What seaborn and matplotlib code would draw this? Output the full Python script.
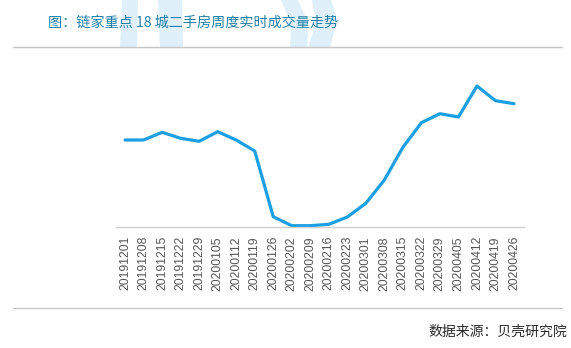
import matplotlib
matplotlib.use("Agg")
import matplotlib.pyplot as plt
from matplotlib.patches import Polygon
from matplotlib.lines import Line2D
import seaborn as sns
import pandas as pd

weeks = ["20191201", "20191208", "20191215", "20191222", "20191229",
         "20200105", "20200112", "20200119", "20200126", "20200202",
         "20200209", "20200216", "20200223", "20200301", "20200308",
         "20200315", "20200322", "20200329", "20200405", "20200412",
         "20200419", "20200426"]
volume = [87.0, 87.0, 94.7, 88.7, 85.7, 95.3, 87.0, 76.0, 10.3, 1.3,
          1.3, 2.7, 10.0, 23.7, 47.0, 79.7, 104.3, 113.3, 110.0, 141.0,
          126.3, 123.3]

title_text = "图：链家重点 18 城二手房周度实时成交量走势"
source_text = "数据来源：贝壳研究院"

sns.set_theme(style="white")
plt.rcParams["font.family"] = ["Noto Sans CJK SC", "DejaVu Sans"]

W, H = 571, 348
fig = plt.figure(figsize=(W / 100, H / 100), dpi=100)
fig.patch.set_facecolor("white")


def fx(px):
    return px / W


def fy(py):
    return 1 - py / H


# faint background emblem behind the heading
mark_color = "#dff0fb"
shapes = [
    [(122, 0), (138, 0), (137, 48), (120, 48)],
    [(158, 0), (182, 0), (183, 48), (160, 48)],
    [(281, 0), (298, 0), (305, 16), (308, 32), (307, 48), (290, 48), (291, 32), (288, 16)],
    [(312, 0), (331, 0), (336, 16), (334, 32), (330, 48), (308, 48), (313, 32), (315, 16)],
]
for pts in shapes:
    fig.patches.append(Polygon([(fx(x), fy(y)) for x, y in pts], closed=True,
                               transform=fig.transFigure, facecolor=mark_color,
                               edgecolor="none", zorder=0))

ax = fig.add_axes([fx(116), fy(227), fx(524) - fx(116), fy(50) - fy(227)])
ax.set_facecolor("none")

df = pd.DataFrame({"week": weeks, "volume": volume})
sns.lineplot(data=df, x="week", y="volume", ax=ax, color="#1a9fe3",
             linewidth=2.3, sort=False)

ax.set_xlim(-0.49, len(weeks) - 1 + 0.54)
ax.set_ylim(0, 177)
ax.set_xlabel("")
ax.set_ylabel("")
ax.set_yticks([])
ax.set_xticks(range(len(weeks)))
ax.set_xticklabels(weeks, rotation=90, fontsize=8.7, color="#555555",
                   family=["Liberation Sans", "DejaVu Sans"])
ax.tick_params(axis="x", length=0, pad=6.5)
for side in ["top", "right", "left"]:
    ax.spines[side].set_visible(False)
ax.spines["bottom"].set_color("#cfcfcf")
ax.spines["bottom"].set_linewidth(1.0)

# separator rules
fig.lines.append(Line2D([fx(13), fx(562)], [fy(46.7), fy(46.7)],
                        transform=fig.transFigure, color="#c6c6c6", linewidth=1.0))
fig.lines.append(Line2D([fx(13), fx(562)], [fy(308), fy(308)],
                        transform=fig.transFigure, color="#c6c6c6", linewidth=1.0))

fig.text(fx(48), fy(23), title_text, fontsize=10.2, color="#2380a8",
         ha="left", va="center")
fig.text(fx(567), fy(332), source_text, fontsize=10, color="#2a2a2a",
         ha="right", va="center")

fig.savefig("out.png", dpi=100, facecolor="white")
